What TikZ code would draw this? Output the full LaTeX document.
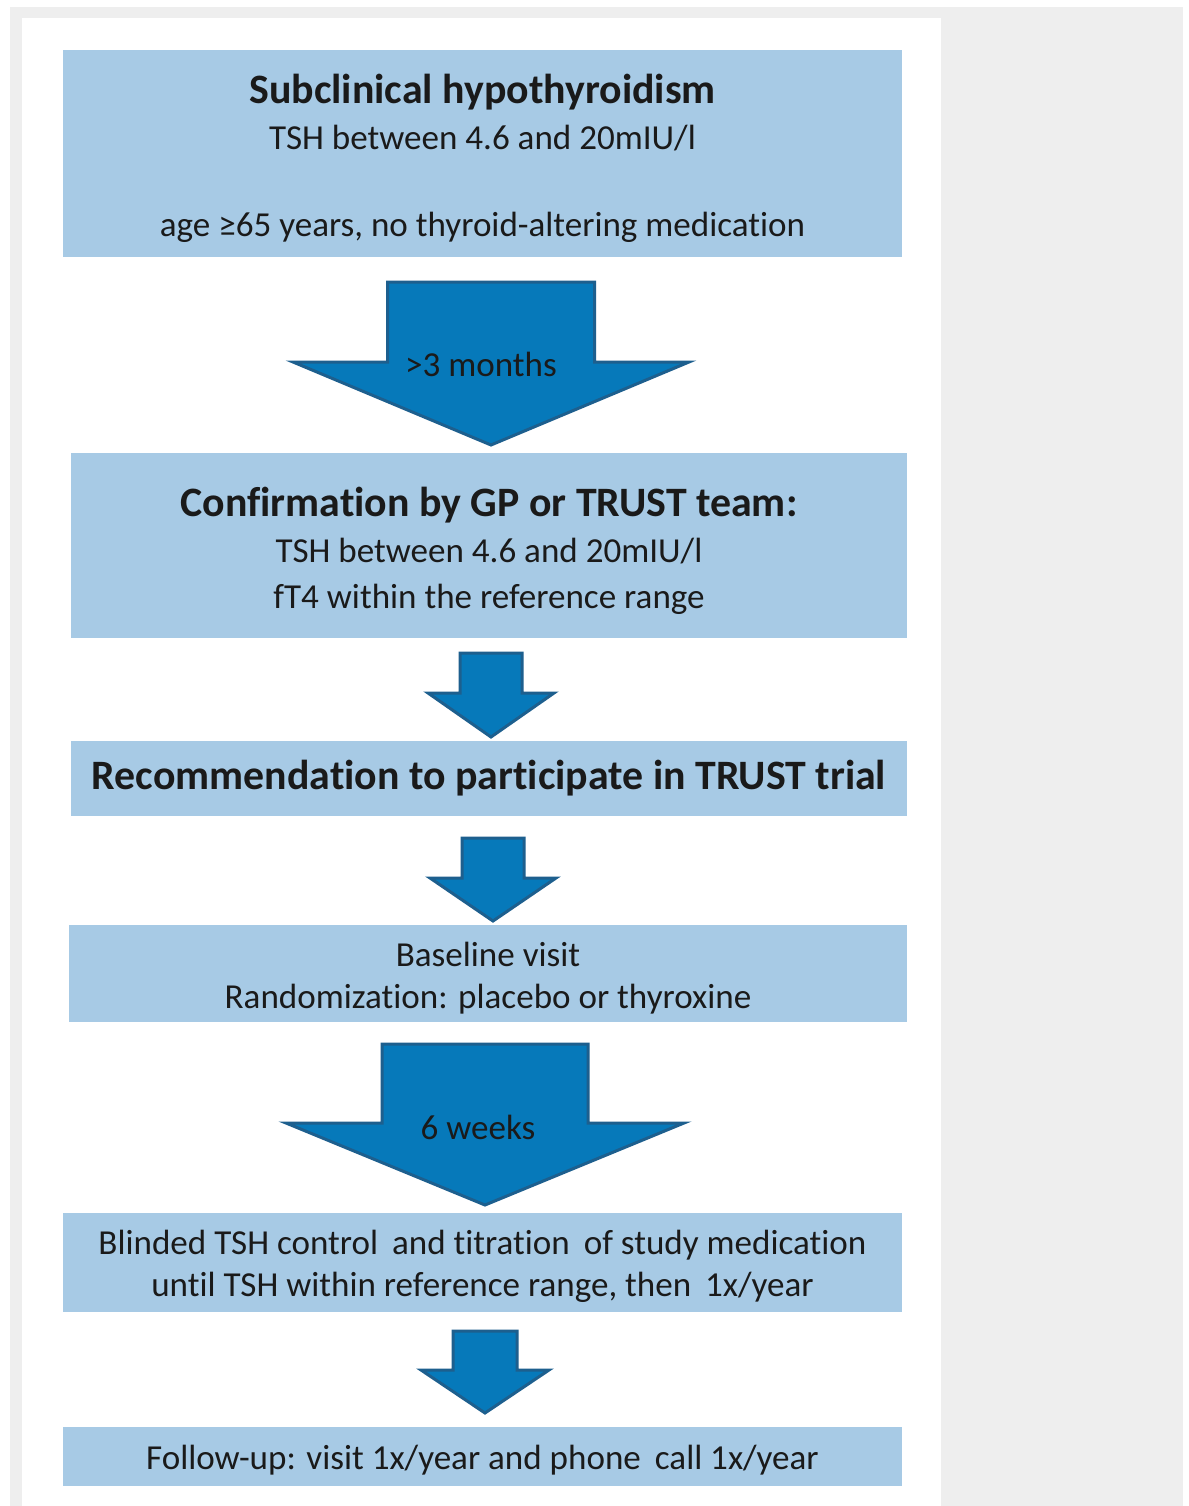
\documentclass[tikz,border=0pt]{standalone}
\usepackage{fontspec}
\setmainfont{Carlito}[Ligatures=NoCommon]
\usepackage{xcolor}
\definecolor{boxblue}{HTML}{A7CAE5}
\definecolor{arrblue}{HTML}{0679BA}
\definecolor{arredge}{HTML}{1D5F8E}
\definecolor{pagegray}{HTML}{EEEEEE}
\definecolor{txt}{HTML}{1A1A1A}
\newcommand{\txtsize}{\fontsize{35.2}{46}\selectfont}
\newcommand{\headsize}{\fontsize{42}{46}\selectfont\bfseries}
% centre x, top y, half shaft, half head, shoulder y, tip y
\newcommand{\downArrow}[6]{%
	\filldraw[arrowblk] (#1-#3,#2) -- (#1+#3,#2) -- (#1+#3,#5) -- (#1+#4,#5) -- (#1,#6) -- (#1-#4,#5) -- (#1-#3,#5) -- cycle;}

\begin{document}
\begin{tikzpicture}[x=1bp, y=-1bp,
	stepbox/.style={fill=boxblue, minimum width=839bp, inner sep=0pt},
	boxtext/.style={align=center, text=txt, font=\txtsize, inner sep=0pt},
	arrowblk/.style={fill=arrblue, draw=arredge, line width=3bp, line join=miter},
	arrlabel/.style={text=txt, font=\txtsize, inner sep=0pt}]
	\useasboundingbox (0,0) rectangle (1188,1506);
	\fill[pagegray] (10,7) rectangle (1183,1506);
	\fill[white] (22,18) rectangle (941,1506);

	% boxes
	\node[stepbox, minimum height=207bp] (subclin) at (482.5,153.5) {};
	\node[stepbox, minimum width=836bp, minimum height=185bp] (confirm) at (489,545.5) {};
	\node[stepbox, minimum width=836bp, minimum height=75bp] (recommend) at (489,778.5) {};
	\node[stepbox, minimum width=838bp, minimum height=97bp] (baseline) at (488,973.5) {};
	\node[stepbox, minimum height=99bp] (blinded) at (482.5,1262.5) {};
	\node[stepbox, minimum height=59bp] (followup) at (482.5,1456.5) {};

	% texts
	\node[boxtext] (subclintxt) at ([yshift=-5bp]subclin.center)
		{{\headsize Subclinical hypothyroidism}\\TSH between 4.6 and 20mIU/l\\[41bp]age ≥65 years, no thyroid-altering medication};
	\node[boxtext] (confirmtxt) at ([yshift=-5bp]confirm.center)
		{{\headsize Confirmation by GP or TRUST team:}\\TSH between 4.6 and 20mIU/l\\fT4 within the reference range};
	\node[boxtext, font=\headsize] (recommendtxt) at (recommend.center)
		{Recommendation to participate in TRUST trial};
	\node[boxtext, font=\fontsize{35.2}{42}\selectfont] (baselinetxt) at ([yshift=-5bp]baseline.center)
		{Baseline visit\\Randomization: placebo or thyroxine};
	\node[boxtext, font=\fontsize{35.2}{42}\selectfont] (blindedtxt) at ([yshift=-4bp]blinded.center)
		{Blinded TSH control\hspace{14bp}and titration\hspace{14bp}of study medication\\until TSH within reference range, then\hspace{14bp}1x/year};
	\node[boxtext] (followuptxt) at ([yshift=-4bp]followup.center)
		{Follow-up: visit 1x/year and phone\hspace{14bp}call 1x/year};

	% block arrows
	\downArrow{491}{282}{103.5}{198}{362}{445}
	\downArrow{491}{653}{31}{63}{693}{737}
	\downArrow{493}{838}{31}{63}{878}{921}
	\downArrow{485}{1044}{103}{199}{1123}{1205}
	\downArrow{485}{1331}{32}{64}{1370}{1413}

	\node[arrlabel] (months) at (481,364) {>3 months};
	\node[arrlabel] (weeks) at (478,1127) {6 weeks};
\end{tikzpicture}
\end{document}
